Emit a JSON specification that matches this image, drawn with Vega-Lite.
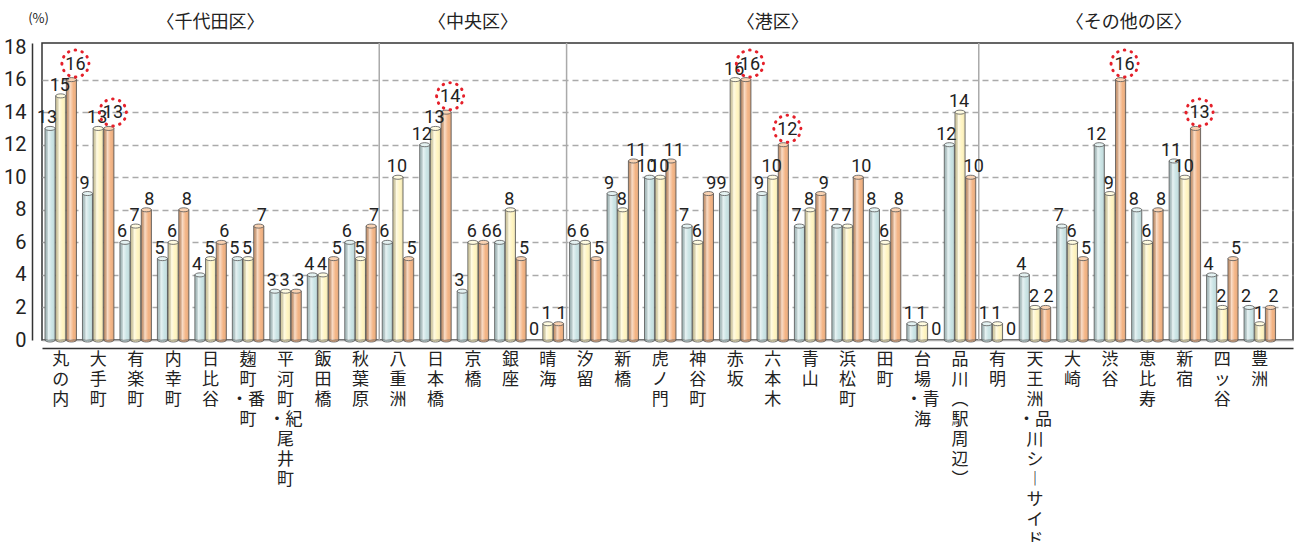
{
  "$schema": "https://vega.github.io/schema/vega-lite/v6.json",
  "width": 1251,
  "height": 297,
  "autosize": {"type": "none"},
  "padding": {"left": 42, "top": 43, "right": 2, "bottom": 202},
  "background": "white",
  "config": {
    "view": {"stroke": "#333", "strokeWidth": 1.5},
    "font": "Noto Sans CJK JP"
  },
  "data": {
    "values": [
      {"area": "丸の内", "ward": "〈千代田区〉", "v1": 13, "v2": 15, "v3": 16, "hl": "v3"},
      {"area": "大手町", "ward": "〈千代田区〉", "v1": 9, "v2": 13, "v3": 13, "hl": "v3"},
      {"area": "有楽町", "ward": "〈千代田区〉", "v1": 6, "v2": 7, "v3": 8},
      {"area": "内幸町", "ward": "〈千代田区〉", "v1": 5, "v2": 6, "v3": 8},
      {"area": "日比谷", "ward": "〈千代田区〉", "v1": 4, "v2": 5, "v3": 6},
      {"area": "麹町・番町", "ward": "〈千代田区〉", "v1": 5, "v2": 5, "v3": 7},
      {"area": "平河町・紀尾井町", "ward": "〈千代田区〉", "v1": 3, "v2": 3, "v3": 3},
      {"area": "飯田橋", "ward": "〈千代田区〉", "v1": 4, "v2": 4, "v3": 5},
      {"area": "秋葉原", "ward": "〈千代田区〉", "v1": 6, "v2": 5, "v3": 7},
      {"area": "八重洲", "ward": "〈中央区〉", "v1": 6, "v2": 10, "v3": 5},
      {"area": "日本橋", "ward": "〈中央区〉", "v1": 12, "v2": 13, "v3": 14, "hl": "v3"},
      {"area": "京橋", "ward": "〈中央区〉", "v1": 3, "v2": 6, "v3": 6},
      {"area": "銀座", "ward": "〈中央区〉", "v1": 6, "v2": 8, "v3": 5},
      {"area": "晴海", "ward": "〈中央区〉", "v1": 0, "v2": 1, "v3": 1},
      {"area": "汐留", "ward": "〈港区〉", "v1": 6, "v2": 6, "v3": 5},
      {"area": "新橋", "ward": "〈港区〉", "v1": 9, "v2": 8, "v3": 11},
      {"area": "虎ノ門", "ward": "〈港区〉", "v1": 10, "v2": 10, "v3": 11},
      {"area": "神谷町", "ward": "〈港区〉", "v1": 7, "v2": 6, "v3": 9},
      {"area": "赤坂", "ward": "〈港区〉", "v1": 9, "v2": 16, "v3": 16, "hl": "v3"},
      {"area": "六本木", "ward": "〈港区〉", "v1": 9, "v2": 10, "v3": 12, "hl": "v3"},
      {"area": "青山", "ward": "〈港区〉", "v1": 7, "v2": 8, "v3": 9},
      {"area": "浜松町", "ward": "〈港区〉", "v1": 7, "v2": 7, "v3": 10},
      {"area": "田町", "ward": "〈港区〉", "v1": 8, "v2": 6, "v3": 8},
      {"area": "台場・青海", "ward": "〈港区〉", "v1": 1, "v2": 1, "v3": 0},
      {"area": "品川（駅周辺）", "ward": "〈港区〉", "v1": 12, "v2": 14, "v3": 10},
      {"area": "有明", "ward": "〈その他の区〉", "v1": 1, "v2": 1, "v3": 0},
      {"area": "天王洲・品川シーサイド", "ward": "〈その他の区〉", "v1": 4, "v2": 2, "v3": 2},
      {"area": "大崎", "ward": "〈その他の区〉", "v1": 7, "v2": 6, "v3": 5},
      {"area": "渋谷", "ward": "〈その他の区〉", "v1": 12, "v2": 9, "v3": 16, "hl": "v3"},
      {"area": "恵比寿", "ward": "〈その他の区〉", "v1": 8, "v2": 6, "v3": 8},
      {"area": "新宿", "ward": "〈その他の区〉", "v1": 11, "v2": 10, "v3": 13, "hl": "v3"},
      {"area": "四ッ谷", "ward": "〈その他の区〉", "v1": 4, "v2": 2, "v3": 5},
      {"area": "豊洲", "ward": "〈その他の区〉", "v1": 2, "v2": 1, "v3": 2}
    ]
  },
  "transform": [{"fold": ["v1", "v2", "v3"], "as": ["series", "value"]}],
  "encoding": {
    "x": {
      "field": "area", "type": "nominal", "sort": null, "title": null,
      "scale": {
        "domain": ["丸の内", "大手町", "有楽町", "内幸町", "日比谷", "麹町・番町", "平河町・紀尾井町", "飯田橋", "秋葉原", "八重洲", "日本橋", "京橋", "銀座", "晴海", "汐留", "新橋", "虎ノ門", "神谷町", "赤坂", "六本木", "青山", "浜松町", "田町", "台場・青海", "品川（駅周辺）", "有明", "天王洲・品川シーサイド", "大崎", "渋谷", "恵比寿", "新宿", "四ッ谷", "豊洲"],
        "paddingInner": 0, "paddingOuter": 0.193, "align": 0, "round": false
      },
      "axis": {
        "labelAngle": 0,
        "labelExpr": "split(replace(replace(replace(datum.label, '（', '︵'), '）', '︶'), 'ー', '︱'), regexp('(?<=[^・])(?=.)'))",
        "labelFont": "Noto Sans CJK JP",
        "labelFontSize": 17,
        "labelLineHeight": 20,
        "labelBaseline": "top",
        "labelAlign": "center",
        "labelColor": "#222",
        "labelPadding": 3,
        "labelOverlap": false,
        "labelBound": false,
        "labelFlush": false,
        "ticks": false,
        "grid": false,
        "domainColor": "#333",
        "domainWidth": 1.5,
        "offset": 8
      }
    },
    "y": {
      "field": "value", "type": "quantitative", "title": "(%)",
      "scale": {"domain": [0, 18.25], "nice": false},
      "axis": {
        "values": [0, 2, 4, 6, 8, 10, 12, 14, 16, 18],
        "labelFont": "Roboto",
        "labelFontSize": 20,
        "labelColor": "#222",
        "labelPadding": 6,
        "ticks": false,
        "offset": 10,
        "domainColor": "#333",
        "domainWidth": 1.5,
        "grid": true,
        "gridColor": "#aaa",
        "gridWidth": 1.5,
        "gridDash": {"condition": {"test": "datum.value === 0", "value": []}, "value": [6, 4]},
        "gridOpacity": {"condition": {"test": "datum.value === 18", "value": 0}, "value": 1},
        "titleAngle": 0,
        "titleFont": "Noto Sans CJK JP",
        "titleFontSize": 13,
        "titleFontWeight": "normal",
        "titleColor": "#222",
        "titleAlign": "center",
        "titleBaseline": "middle",
        "titleX": 6,
        "titleY": -25
      }
    }
  },
  "layer": [
    {
      "transform": [{"filter": "datum.series === 'v1' && indexof(['八重洲', '汐留', '有明'], datum.area) >= 0"}],
      "mark": {"type": "rule", "color": "#aaa", "strokeWidth": 1.5},
      "encoding": {
        "x": {"field": "area", "type": "nominal", "sort": null, "title": null, "bandPosition": 0},
        "y": {"datum": 0},
        "y2": {"datum": 18.25}
      }
    },
    {
      "transform": [{"filter": "datum.value > 0"}],
      "mark": {"type": "point", "shape": "M-1,0A1,0.4 0 1,0 1,0A1,0.4 0 1,0 -1,0Z", "filled": true, "size": 102, "stroke": "#555", "strokeWidth": 0.8, "opacity": 1},
      "encoding": {
        "xOffset": {"field": "series", "type": "nominal", "scale": {"domain": ["v1", "v2", "v3"], "paddingInner": 0.05, "paddingOuter": 0.28}},
        "y": {"datum": 0},
        "color": {"field": "series", "type": "nominal", "legend": null, "scale": {"domain": ["v1", "v2", "v3"], "range": ["#c9e3e4", "#fff4c0", "#f3b383"]}}
      }
    },
    {
      "transform": [{"filter": "datum.value > 0"}],
      "mark": {"type": "bar", "stroke": "#555", "strokeWidth": 0.8},
      "encoding": {
        "xOffset": {"field": "series", "type": "nominal"},
        "color": {"field": "series", "type": "nominal", "legend": null}
      }
    },
    {
      "transform": [{"filter": "datum.value > 0"}],
      "mark": {
        "type": "bar",
        "color": {
          "gradient": "linear", "x1": 0, "x2": 1, "y1": 0, "y2": 0,
          "stops": [
            {"offset": 0, "color": "rgba(0,0,0,0.10)"},
            {"offset": 0.35, "color": "rgba(255,255,255,0.55)"},
            {"offset": 0.7, "color": "rgba(255,255,255,0)"},
            {"offset": 1, "color": "rgba(0,0,0,0.14)"}
          ]
        }
      },
      "encoding": {"xOffset": {"field": "series", "type": "nominal"}}
    },
    {
      "transform": [{"filter": "datum.value > 0"}],
      "mark": {"type": "point", "shape": "M-1,0A1,0.4 0 1,0 1,0A1,0.4 0 1,0 -1,0Z", "filled": true, "size": 102, "stroke": "#555", "strokeWidth": 0.8, "opacity": 1},
      "encoding": {
        "xOffset": {"field": "series", "type": "nominal"},
        "fill": {"field": "series", "type": "nominal", "legend": null, "scale": {"domain": ["v1", "v2", "v3"], "range": ["#e4f2f2", "#fffbe0", "#f9d2b2"]}}
      }
    },
    {
      "transform": [{"filter": "datum.series === 'v1'"}],
      "mark": {"type": "text", "baseline": "alphabetic", "dy": -5, "dx": -3, "font": "Roboto", "fontSize": 18, "color": "#222"},
      "encoding": {
        "xOffset": {"field": "series", "type": "nominal"},
        "text": {"field": "value", "type": "quantitative"}
      }
    },
    {
      "transform": [{"filter": "datum.series === 'v2'"}],
      "mark": {"type": "text", "baseline": "alphabetic", "dy": -5, "dx": -1, "font": "Roboto", "fontSize": 18, "color": "#222"},
      "encoding": {
        "xOffset": {"field": "series", "type": "nominal"},
        "text": {"field": "value", "type": "quantitative"}
      }
    },
    {
      "transform": [{"filter": "datum.series === 'v3' && datum.series !== datum.hl"}],
      "mark": {"type": "text", "baseline": "alphabetic", "dy": -5, "dx": 3, "font": "Roboto", "fontSize": 18, "color": "#222"},
      "encoding": {
        "xOffset": {"field": "series", "type": "nominal"},
        "text": {"field": "value", "type": "quantitative"}
      }
    },
    {
      "transform": [{"filter": "datum.series === datum.hl"}],
      "mark": {"type": "text", "baseline": "alphabetic", "dy": -10, "dx": 4, "font": "Roboto", "fontSize": 18, "color": "#222"},
      "encoding": {
        "xOffset": {"field": "series", "type": "nominal"},
        "text": {"field": "value", "type": "quantitative"}
      }
    },
    {
      "transform": [{"filter": "datum.series === datum.hl"}],
      "mark": {"type": "point", "shape": "M-0.704,0A1,1 0 1,0 1.296,0A1,1 0 1,0 -0.704,0Z", "size": 729, "filled": false, "stroke": "#e5202a", "strokeWidth": 3, "strokeDash": [0.5, 6.5], "strokeCap": "round", "opacity": 1, "yOffset": -16},
      "encoding": {"xOffset": {"field": "series", "type": "nominal"}}
    },
    {
      "transform": [{"filter": "datum.series === 'v1' && indexof(['日比谷', '京橋', '六本木'], datum.area) >= 0"}],
      "mark": {"type": "text", "fontSize": 18, "color": "#222", "baseline": "middle", "font": "Noto Sans CJK JP"},
      "encoding": {
        "y": {"datum": 19.5},
        "text": {"field": "ward"}
      }
    },
    {
      "transform": [{"filter": "datum.series === 'v1' && datum.area === '恵比寿'"}],
      "mark": {"type": "text", "fontSize": 18, "color": "#222", "baseline": "middle", "font": "Noto Sans CJK JP"},
      "encoding": {
        "x": {"field": "area", "type": "nominal", "sort": null, "title": null, "bandPosition": 0},
        "y": {"datum": 19.5},
        "text": {"field": "ward"}
      }
    }
  ]
}
